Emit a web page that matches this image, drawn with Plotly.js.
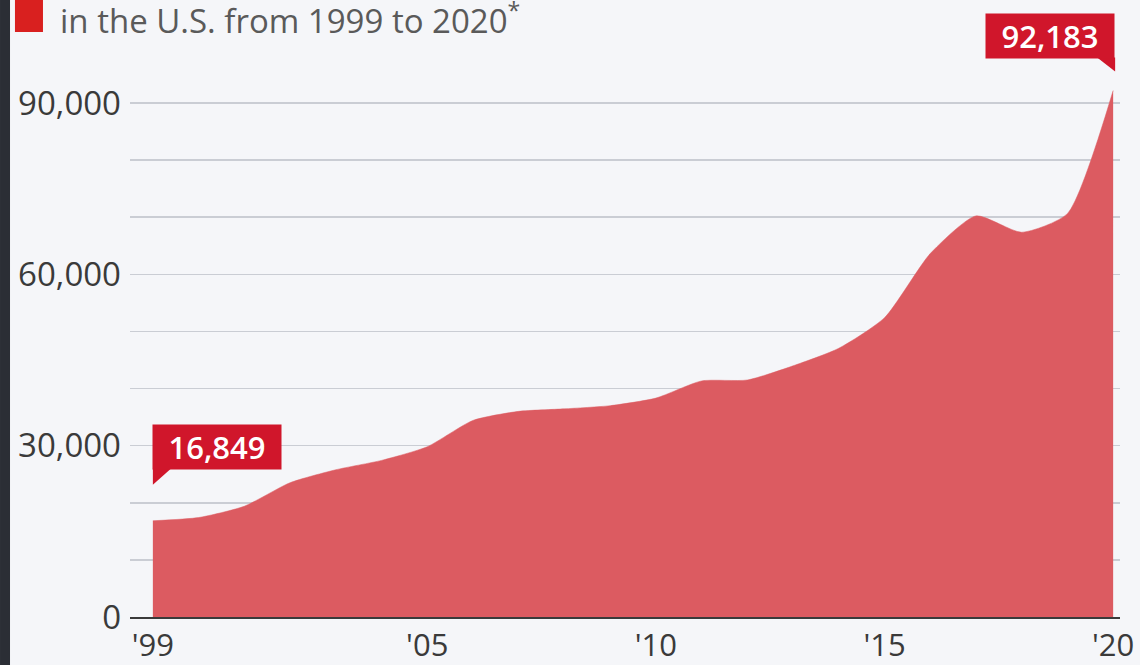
<!DOCTYPE html>
<html>
<head>
<meta charset="utf-8">
<script src="https://cdn.plot.ly/plotly-3.0.1.min.js"></script>
<style>
html,body{margin:0;padding:0;background:#f5f6f9;}
#chart{width:1140px;height:665px;}
</style>
</head>
<body>
<div id="chart"></div>
<script>
// Data
const years = [1999,2000,2001,2002,2003,2004,2005,2006,2007,2008,2009,2010,2011,2012,2013,2014,2015,2016,2017,2018,2019,2020];
const deaths = [16849,17415,19394,23518,25785,27424,29813,34425,36010,36450,37004,38329,41340,41502,43982,47055,52404,63632,70237,67367,70630,92183];
const xTickVals = [1999,2005,2010,2015,2020];
const xTickText = ["'99","'05","'10","'15","'20"];
const yGridVals = [0,10000,20000,30000,40000,50000,60000,70000,80000,90000];
const yTickText = ["0","","","30,000","","","60,000","","","90,000"];
const titleText = "in the U.S. from 1999 to 2020<sup>*</sup>";
const firstIdx = 0, lastIdx = years.length - 1;

const fmt = v => v.toLocaleString('en-US');
const red = '#d0162b';

const trace = {
  x: years, y: deaths, type: 'scatter', mode: 'lines',
  fill: 'tozeroy', fillcolor: '#dc5b61',
  line: {color: '#dc5b61', width: 0.5, shape: 'spline', smoothing: 0.6},
  hoverinfo: 'x+y'
};

const layout = {
  width: 1140, height: 665,
  margin: {l: 130, r: 20, t: 0, b: 48},
  paper_bgcolor: '#f5f6f9', plot_bgcolor: '#f5f6f9',
  font: {family: '"Open Sans", sans-serif', color: '#3a3a3a'},
  title: {
    text: titleText,
    x: 60/1140, xanchor: 'left', xref: 'container',
    y: 1 - 21/665, yanchor: 'middle', yref: 'container',
    font: {size: 33, color: '#5a5a5a', family: '"Open Sans", sans-serif'}
  },
  showlegend: false,
  xaxis: {
    range: [1998.5, 2020.15],
    tickvals: xTickVals, ticktext: xTickText,
    showgrid: false, zeroline: false,
    showline: true, linecolor: '#3a3a3a', linewidth: 2,
    ticks: '', ticklabelstandoff: 0,
    tickfont: {size: 31, color: '#3a3a3a'}
  },
  yaxis: {
    range: [0, 108040],
    tickvals: yGridVals, ticktext: yTickText,
    showgrid: true, gridcolor: '#cacdd4', gridwidth: 1.5,
    zeroline: false, showline: false,
    ticks: '', ticklabelstandoff: 8,
    tickfont: {size: 33, color: '#3a3a3a'}
  },
  shapes: [
    {type: 'rect', xref: 'paper', yref: 'paper', x0: -0.1313, x1: -0.1212, y0: -0.15, y1: 1.1,
     fillcolor: '#2b2e35', line: {width: 0}, layer: 'above'},
    {type: 'rect', xref: 'paper', yref: 'paper', x0: -0.1162, x1: -0.0879, y0: 0.9481, y1: 1.05,
     fillcolor: '#d9201f', line: {width: 0}},
    {type: 'path', xref: 'x', yref: 'y', xsizemode: 'pixel', ysizemode: 'pixel',
     xanchor: years[firstIdx], yanchor: deaths[firstIdx],
     path: 'M0,52 L0,36 L18,52 Z', fillcolor: red, line: {width: 0}, layer: 'above'},
    {type: 'path', xref: 'x', yref: 'y', xsizemode: 'pixel', ysizemode: 'pixel',
     xanchor: years[lastIdx], yanchor: deaths[lastIdx],
     path: 'M2,33 L2,19 L-16,33 Z', fillcolor: red, line: {width: 0}, layer: 'above'}
  ],
  annotations: [
    {x: years[firstIdx], y: deaths[firstIdx], xref: 'x', yref: 'y',
     text: fmt(deaths[firstIdx]), showarrow: false,
     xanchor: 'left', yanchor: 'bottom', yshift: 51, xshift: -1,
     bgcolor: red, width: 128, height: 44, borderpad: 0,
     font: {size: 31, weight: 600, color: '#ffffff', family: '"Open Sans", sans-serif'}},
    {x: years[lastIdx], y: deaths[lastIdx], xref: 'x', yref: 'y',
     text: fmt(deaths[lastIdx]), showarrow: false,
     xanchor: 'right', yanchor: 'bottom', yshift: 32, xshift: 2,
     bgcolor: red, width: 128, height: 44, borderpad: 0,
     font: {size: 31, weight: 600, color: '#ffffff', family: '"Open Sans", sans-serif'}}
  ]
};

Plotly.newPlot('chart', [trace], layout, {displayModeBar: false, staticPlot: true});
</script>
</body>
</html>
